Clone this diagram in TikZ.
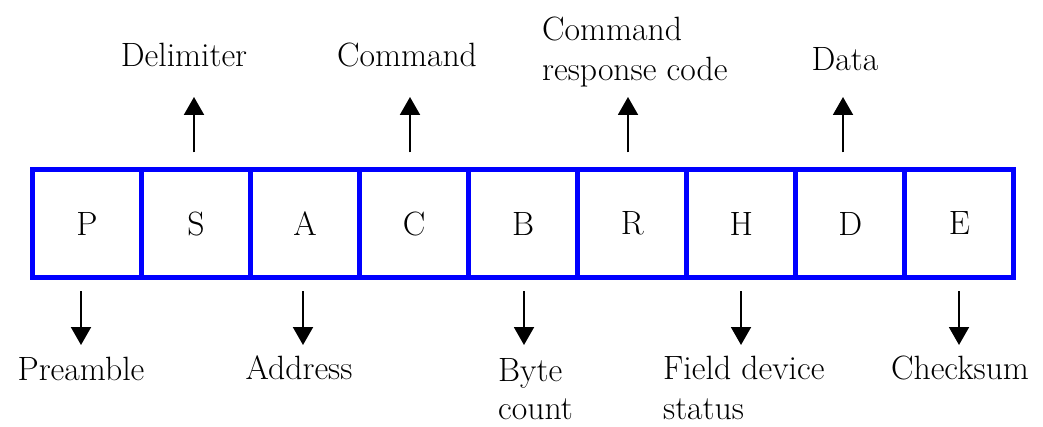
\documentclass[tikz,border=0pt]{standalone}
\usepackage{fontspec}
\usetikzlibrary{arrows.meta}
\newcommand\labfont{\fontsize{33.7}{40}\selectfont}
\newcommand\labfonttight{\fontsize{33.7}{38.5}\selectfont}
\begin{document}
\begin{tikzpicture}[x=1pt,y=-1pt,
  cell/.style={draw=blue, line width=5pt, minimum width=109.05pt, minimum height=108pt, inner sep=0pt, font=\labfont},
  lab/.style={inner sep=0pt, font=\labfont, align=left},
  arr/.style={line width=2pt, -{Triangle[width=20pt,length=18pt]}}]
\useasboundingbox (0,0) rectangle (1043,427);
\foreach \t [count=\i] in {P,S,A,C,B,R,H,D,E}
  \node[cell] (c\i) at ({32.5+109.05*(\i-0.5)},223.5) {\t};
% labels
\node[lab, anchor=base] (delim) at (184,67) {Delimiter};
\node[lab, anchor=base] (cmd) at (407,67) {Command};
\node[lab, anchor=north west] (crc) at (542,16.6) {Command\\response code};
\node[lab, anchor=base] (data) at (845,71) {Data};
\node[lab, anchor=base] (pre) at (81,380) {Preamble};
\node[lab, anchor=base] (addr) at (299,379) {Address};
\node[lab, font=\labfonttight, anchor=north west, text depth=0pt] (byte) at (498,358) {Byte\\count};
\node[lab, anchor=north west, text depth=0pt] (fds) at (663,355.6) {Field device\\status};
\node[lab, anchor=base] (chk) at (960,379) {Checksum};
% arrow ends
\coordinate (u2) at (194,97);
\coordinate (u4) at (410,97);
\coordinate (u6) at (628,97);
\coordinate (u8) at (843,97);
\coordinate (d1) at (81,345);
\coordinate (d3) at (303,345);
\coordinate (d5) at (524,345);
\coordinate (d7) at (741,345);
\coordinate (d9) at (959,345);
\foreach \k in {2,4,6,8}
  \draw[arr, shorten <=14.5pt] (c\k.north -| u\k) -- (u\k);
\foreach \k in {1,3,5,7,9}
  \draw[arr, shorten <=11.5pt] (c\k.south -| d\k) -- (d\k);
\end{tikzpicture}
\end{document}
